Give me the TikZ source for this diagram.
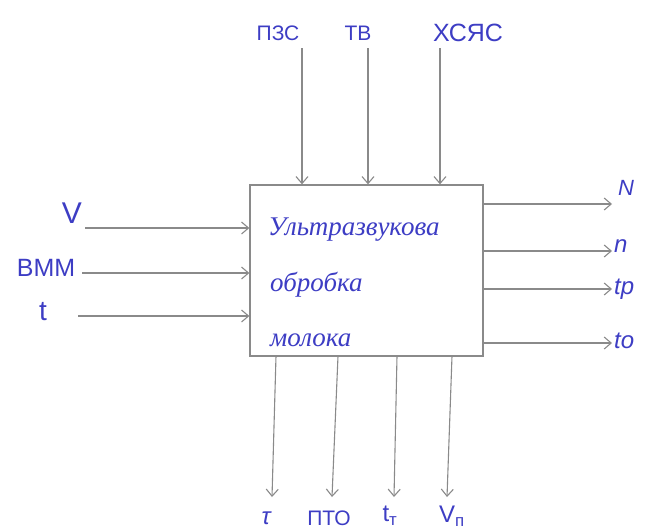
\documentclass[tikz,border=0pt]{standalone}
\usepackage{fontspec}
\setmainfont{Liberation Sans}
\newfontfamily\cursfont{Liberation Serif}
\usetikzlibrary{arrows.meta}
\definecolor{ink}{HTML}{3D3DC4}
\definecolor{pencil}{HTML}{8A8A8A}
\tikzset{
  conn/.style={draw=pencil, line width=1.1pt, -{Straight Barb[length=7pt,width=12pt]}},
  lbl/.style={text=ink, inner sep=0pt, font=\fontsize{21}{24}\selectfont},
  inlbl/.style={text=ink, inner sep=0pt, anchor=west, font=\cursfont\itshape\fontsize{27}{30}\selectfont},
  blockbox/.style={draw=pencil, line width=1.3pt, minimum width=233pt, minimum height=171pt, inner sep=0pt}
}
\begin{document}
\begin{tikzpicture}[x=1pt,y=-1pt]
\useasboundingbox (0,0) rectangle (652,531);
\node[blockbox] (box) at (366.5,270.5) {};
% inner text
\node[inlbl] (t1) at (268,230) {Ультразвукова};
\node[inlbl] (t2) at (270,285) {обробка};
\node[inlbl] (t3) at (270,340) {молока};
% top labels
\node[lbl] (pzs) at (278,33) {ПЗС};
\node[lbl] (tv) at (358,33) {ТВ};
\node[lbl, font=\fontsize{25}{28}\selectfont] (hsyas) at (468,33) {ХСЯС};
\coordinate (a1) at (302,48);
\coordinate (a2) at (368,48);
\coordinate (a3) at (440,48);
\draw[conn] (a1) -- (a1 |- box.north);
\draw[conn] (a2) -- (a2 |- box.north);
\draw[conn] (a3) -- (a3 |- box.north);
% left labels
\node[lbl, font=\fontsize{30}{32}\selectfont] (v) at (72,213) {V};
\node[lbl, font=\fontsize{25}{28}\selectfont] (vmm) at (46,268) {ВММ};
\node[lbl, font=\fontsize{28}{30}\selectfont] (t) at (43,312) {t};
\coordinate (l1) at (85,228);
\coordinate (l2) at (82,273);
\coordinate (l3) at (78,316);
\draw[conn] (l1) -- (l1 -| box.west);
\draw[conn] (l2) -- (l2 -| box.west);
\draw[conn] (l3) -- (l3 -| box.west);
% right outputs
\coordinate (r1) at (612,204);
\coordinate (r2) at (612,251);
\coordinate (r3) at (612,289);
\coordinate (r4) at (612,343);
\draw[conn] (r1 -| box.east) -- (r1);
\draw[conn] (r2 -| box.east) -- (r2);
\draw[conn] (r3 -| box.east) -- (r3);
\draw[conn] (r4 -| box.east) -- (r4);
\node[lbl, font=\fontsize{22}{24}\selectfont\itshape] (nN) at (626,188) {N};
\node[lbl, anchor=west, font=\fontsize{24}{26}\selectfont\itshape] (nn) at (614,246) {n};
\node[lbl, anchor=west, font=\fontsize{24}{26}\selectfont\itshape] (ntp) at (614,289) {tp};
\node[lbl, anchor=west, font=\fontsize{24}{26}\selectfont\itshape] (nto) at (614,341) {to};
% bottom outputs
\coordinate (b1s) at (276,356);
\coordinate (b1e) at (272,497);
\coordinate (b2s) at (338,356);
\coordinate (b2e) at (332,497);
\coordinate (b3s) at (397,356);
\coordinate (b3e) at (394,497);
\coordinate (b4s) at (452,356);
\coordinate (b4e) at (447,497);
\draw[conn] (b1s) -- (b1e);
\draw[conn] (b2s) -- (b2e);
\draw[conn] (b3s) -- (b3e);
\draw[conn] (b4s) -- (b4e);
\node[lbl, font=\fontsize{24}{26}\selectfont\itshape] (tau) at (266,518) {τ};
\node[lbl] (pto) at (329,518) {ПТО};
\node[lbl, font=\fontsize{24}{26}\selectfont] (tt) at (390,516) {t\textsubscript{т}};
\node[lbl, font=\fontsize{24}{26}\selectfont] (vp) at (452,516) {V\textsubscript{п}};
\end{tikzpicture}
\end{document}
